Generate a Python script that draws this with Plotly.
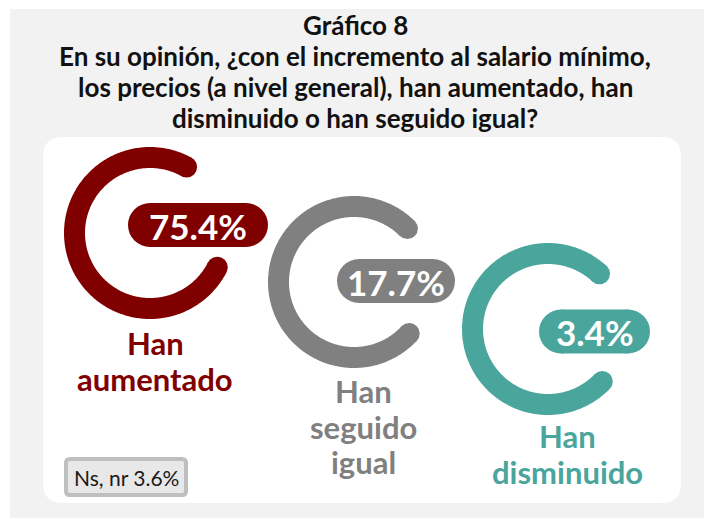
import numpy as np
import plotly.graph_objects as go

# ---------------- data ----------------
categories = ["Han aumentado", "Han seguido igual", "Han disminuido"]
label_lines = [["Han", "aumentado"], ["Han", "seguido", "igual"], ["Han", "disminuido"]]
values = [75.4, 17.7, 3.4]
ns_nr = 3.6
colors = ["#800000", "#808080", "#4AA59C"]
title_lines = [
    "Gráfico 8",
    "En su opinión, ¿con el incremento al salario mínimo,",
    "los precios (a nivel general), han aumentado, han",
    "disminuido o han seguido igual?",
]

# ---------------- layout geometry (pixels, y down) ----------------
W, H = 704, 518
ring_cx = [150, 354, 548]
ring_cy = [233, 282, 329]
ring_r = 75.5
ring_w = 21
gap_top = [61, 45, 47]      # angle (deg) of upper arc end
gap_bot = [-27, -43, -44]   # angle (deg) of lower arc end
pill_x = [(128, 268), (337, 455), (539, 650)]
pill_cy = [225, 281, 331.5]
pill_h = 44
label_cx = [155, 363, 567]
label_y0 = [343, 391, 436]
label_dy = 35.5
title_y = [25, 56, 87, 117.5]
title_cx = 355

FONT = "Lato"

fig = go.Figure()

def rounded_rect(x0, y0, x1, y1, r):
    return (f"M{x0+r},{y0} L{x1-r},{y0} Q{x1},{y0} {x1},{y0+r} "
            f"L{x1},{y1-r} Q{x1},{y1} {x1-r},{y1} L{x0+r},{y1} "
            f"Q{x0},{y1} {x0},{y1-r} L{x0},{y0+r} Q{x0},{y0} {x0+r},{y0} Z")

shapes = [
    dict(type="rect", x0=10, y0=9, x1=W + 2, y1=H + 2, fillcolor="#F2F2F2",
         line=dict(width=0), layer="below"),
    dict(type="path", path=rounded_rect(43, 137, 681, 503, 20), fillcolor="#FFFFFF",
         line=dict(width=0), layer="below"),
    dict(type="path", path=rounded_rect(66, 459, 186, 495, 4), fillcolor="#E8E8E8",
         line=dict(color="#BFBFBF", width=4), layer="below"),
]

annotations = []

for i, cat in enumerate(categories):
    c = colors[i]
    t = np.radians(np.linspace(gap_top[i], 360 + gap_bot[i], 300))
    xs = ring_cx[i] + ring_r * np.cos(t)
    ys = ring_cy[i] - ring_r * np.sin(t)
    fig.add_trace(go.Scatter(x=xs, y=ys, mode="lines",
                             line=dict(color=c, width=ring_w, simplify=False, shape="spline"),
                             hoverinfo="skip", showlegend=False, name=cat))
    fig.add_trace(go.Scatter(x=[xs[0], xs[-1]], y=[ys[0], ys[-1]], mode="markers",
                             marker=dict(color=c, size=ring_w, line=dict(width=0)),
                             hoverinfo="skip", showlegend=False))
    # pill
    px0, px1 = pill_x[i]
    rr = pill_h / 2
    fig.add_trace(go.Scatter(x=[px0 + rr, px1 - rr], y=[pill_cy[i], pill_cy[i]],
                             mode="lines+markers", line=dict(color=c, width=pill_h),
                             marker=dict(color=c, size=pill_h, line=dict(width=0)),
                             hoverinfo="skip", showlegend=False))
    annotations.append(dict(x=(px0 + px1) / 2, y=pill_cy[i] + 0.5, text=f"<b>{values[i]:.1f}%</b>",
                            showarrow=False, xanchor="center", yanchor="middle",
                            font=dict(family=FONT, size=35, color="#FFFFFF")))
    for j, ln in enumerate(label_lines[i]):
        annotations.append(dict(x=label_cx[i], y=label_y0[i] + j * label_dy, text=f"<b>{ln}</b>",
                                showarrow=False, xanchor="center", yanchor="middle",
                                font=dict(family=FONT, size=31, color=c)))

for k, ln in enumerate(title_lines):
    annotations.append(dict(x=title_cx, y=title_y[k], text=f"<b>{ln}</b>", showarrow=False,
                            xanchor="center", yanchor="middle",
                            font=dict(family=FONT, size=26, color="#111111")))

annotations.append(dict(x=126, y=477.5, text=f"Ns, nr {ns_nr:.1f}%", showarrow=False,
                        xanchor="center", yanchor="middle",
                        font=dict(family=FONT, size=21, color="#1A1A1A")))

fig.update_layout(
    width=W, height=H, margin=dict(l=0, r=0, t=0, b=0),
    paper_bgcolor="#FFFFFF", plot_bgcolor="rgba(0,0,0,0)",
    xaxis=dict(range=[0, W], visible=False, fixedrange=True, domain=[0, 1]),
    yaxis=dict(range=[H, 0], visible=False, fixedrange=True, domain=[0, 1]),
    shapes=shapes, annotations=annotations, showlegend=False,
)

fig.write_html("out.html", config={"displayModeBar": False},
               post_script="document.body.style.margin='0';document.body.style.overflow='hidden';")
